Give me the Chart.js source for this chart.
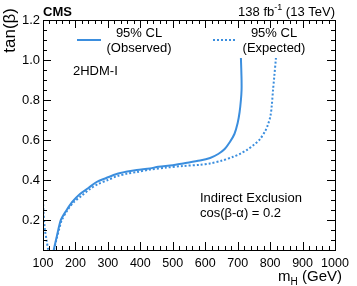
<!DOCTYPE html>
<html>
<head>
<meta charset="utf-8">
<script src="https://cdn.jsdelivr.net/npm/chart.js@4.4.1/dist/chart.umd.min.js"></script>
<style>
    html, body { margin: 0; padding: 0; background: #fff; }
    #wrap { width: 357px; height: 286px; }
</style>
</head>
<body>
<div id="wrap"><canvas id="exclusionChart"></canvas></div>
<script>
const X_TICKS = [100, 200, 300, 400, 500, 600, 700, 800, 900, 1000];
const Y_TICKS = [0.2, 0.4, 0.6, 0.8, 1.0, 1.2];

// observed 95% CL contour (mH in GeV, tan beta)
const obsMass = [133, 140, 147, 155, 173, 190, 214, 240, 265, 295, 327, 360, 389, 430, 455, 500, 532, 584, 615, 640, 660, 676, 690, 700, 706, 710, 712, 712, 711, 710];
const obsTanb = [0.05, 0.10, 0.15, 0.20, 0.25, 0.29, 0.33, 0.36, 0.39, 0.41, 0.43, 0.442, 0.45, 0.458, 0.466, 0.474, 0.483, 0.497, 0.51, 0.53, 0.555, 0.59, 0.63, 0.685, 0.74, 0.80, 0.85, 0.90, 0.96, 1.01];

// expected 95% CL contour, main branch and the small low-mass branch
const expMass = [134, 141, 149, 158, 176, 195, 218, 245, 270, 300, 330, 360, 390, 430, 480, 532, 584, 615, 650, 686, 710, 730, 750, 769, 785, 794, 801, 805, 809, 813, 818];
const expTanb = [0.05, 0.10, 0.15, 0.20, 0.25, 0.29, 0.32, 0.355, 0.38, 0.40, 0.42, 0.432, 0.44, 0.452, 0.462, 0.47, 0.476, 0.483, 0.496, 0.516, 0.533, 0.552, 0.576, 0.605, 0.645, 0.68, 0.72, 0.77, 0.85, 0.92, 1.01];
const expLowMass = [100, 101, 106, 111, 116];
const expLowTanb = [0.36, 0.25, 0.15, 0.10, 0.05];

const BLUE = '#3b8ede';
const FONT = '"Liberation Sans", Arial, Helvetica, sans-serif';

function toPoints(xs, ys) {
    return xs.map((x, i) => ({ x: x, y: ys[i] }));
}

// frame + inward ticks on all four sides, ROOT style
const frameTicks = {
    id: 'frameTicks',
    afterDraw(chart) {
        const ctx = chart.ctx;
        const a = chart.chartArea;
        const xs = chart.scales.x;
        const ys = chart.scales.y;
        ctx.save();
        ctx.strokeStyle = '#000';
        ctx.lineWidth = 1;
        ctx.strokeRect(a.left + 0.5, a.top + 0.5, a.right - a.left, a.bottom - a.top);
        ctx.beginPath();
        for (let m = 100; m <= 1000; m += 20) {
            const px = Math.round(xs.getPixelForValue(m)) + 0.5;
            const len = m % 100 === 0 ? 8 : 4;
            ctx.moveTo(px, a.bottom); ctx.lineTo(px, a.bottom - len);
            ctx.moveTo(px, a.top); ctx.lineTo(px, a.top + len);
        }
        for (let k = 1; k <= 24; k++) {
            const v = k * 0.05;
            const py = Math.round(ys.getPixelForValue(v)) + 0.5;
            const len = k % 4 === 0 ? 8 : 4;
            ctx.moveTo(a.left, py); ctx.lineTo(a.left + len, py);
            ctx.moveTo(a.right, py); ctx.lineTo(a.right - len, py);
        }
        ctx.stroke();
        ctx.restore();
    }
};

// titles, labels and the legend
const annotations = {
    id: 'annotations',
    afterDraw(chart) {
        const ctx = chart.ctx;
        const a = chart.chartArea;
        ctx.save();
        ctx.fillStyle = '#000';
        ctx.textBaseline = 'alphabetic';

        ctx.font = 'bold 13px ' + FONT;
        ctx.textAlign = 'left';
        ctx.fillText('CMS', a.left, 16);

        // 138 fb^-1 (13 TeV), right aligned
        ctx.font = '13px ' + FONT;
        const tail = ' (13 TeV)';
        const head = '138 fb';
        const wTail = ctx.measureText(tail).width;
        const wHead = ctx.measureText(head).width;
        ctx.font = '9px ' + FONT;
        const sup = '-1';
        const wSup = ctx.measureText(sup).width;
        let x = a.right - wTail - wSup - wHead;
        ctx.font = '13px ' + FONT;
        ctx.fillText(head, x, 16);
        ctx.font = '9px ' + FONT;
        ctx.fillText(sup, x + wHead, 10);
        ctx.font = '13px ' + FONT;
        ctx.fillText(tail, x + wHead + wSup, 16);

        // x title m_H (GeV)
        ctx.font = '15px ' + FONT;
        const rest = ' (GeV)';
        const wRest = ctx.measureText(rest).width;
        const wM = ctx.measureText('m').width;
        ctx.font = '10px ' + FONT;
        const wH = ctx.measureText('H').width;
        x = a.right + 7 - wRest - wH - wM;
        ctx.font = '15px ' + FONT;
        ctx.fillText('m', x, 281);
        ctx.font = '10px ' + FONT;
        ctx.fillText('H', x + wM, 285);
        ctx.font = '15px ' + FONT;
        ctx.fillText(rest, x + wM + wH, 281);

        // y title tan(beta)
        ctx.save();
        ctx.translate(15, 8);
        ctx.rotate(-Math.PI / 2);
        ctx.font = '17px ' + FONT;
        ctx.textAlign = 'right';
        ctx.fillText('tan(\u03b2)', 0, 0);
        ctx.restore();

        ctx.font = '13px ' + FONT;
        ctx.textAlign = 'left';
        ctx.fillText('2HDM-I', 73, 75);
        ctx.fillText('Indirect Exclusion', 200, 202);
        ctx.fillText('cos(\u03b2-\u03b1) = 0.2', 200, 217);

        // legend
        const ds = chart.data.datasets;
        const entries = [
            { set: ds[0], x0: 77, x1: 101, cx: 139 },
            { set: ds[1], x0: 213, x1: 237, cx: 274 }
        ];
        entries.forEach(e => {
            ctx.save();
            ctx.strokeStyle = e.set.borderColor;
            ctx.lineWidth = e.set.borderWidth;
            ctx.setLineDash(e.set.borderDash || []);
            ctx.beginPath();
            ctx.moveTo(e.x0, 40);
            ctx.lineTo(e.x1, 40);
            ctx.stroke();
            ctx.restore();
            ctx.font = '13px ' + FONT;
            ctx.textAlign = 'center';
            const lines = e.set.label.split('\n');
            ctx.fillText(lines[0], e.cx, 37);
            ctx.fillText(lines[1], e.cx, 52);
        });
        ctx.restore();
    }
};

new Chart(document.getElementById('exclusionChart'), {
    type: 'scatter',
    data: {
        datasets: [{
            label: '95% CL\n(Observed)',
            data: toPoints(obsMass, obsTanb),
            showLine: true,
            borderColor: BLUE,
            borderWidth: 2,
            pointRadius: 0,
            tension: 0.3
        }, {
            label: '95% CL\n(Expected)',
            data: toPoints(expMass, expTanb),
            showLine: true,
            borderColor: BLUE,
            borderWidth: 2,
            borderDash: [2, 2],
            pointRadius: 0,
            tension: 0.3
        }, {
            label: 'expected-low',
            data: toPoints(expLowMass, expLowTanb),
            showLine: true,
            borderColor: BLUE,
            borderWidth: 2,
            borderDash: [2, 2],
            pointRadius: 0,
            tension: 0.3
        }]
    },
    options: {
        responsive: true,
        maintainAspectRatio: false,
        animation: false,
        layout: { padding: { left: 0, right: 22, top: 20, bottom: 0 } },
        plugins: {
            legend: { display: false },
            tooltip: { enabled: false }
        },
        scales: {
            x: {
                type: 'linear',
                min: 100,
                max: 1000,
                grid: { display: false, drawTicks: false },
                border: { display: false },
                afterBuildTicks: scale => { scale.ticks = X_TICKS.map(v => ({ value: v })); },
                afterFit: scale => { scale.height = 36; },
                ticks: {
                    padding: 6,
                    autoSkip: false,
                    maxRotation: 0,
                    color: '#000',
                    font: { family: FONT, size: 12.5 },
                    callback: v => String(v)
                }
            },
            y: {
                type: 'linear',
                min: 0.05,
                max: 1.2,
                grid: { display: false, drawTicks: false },
                border: { display: false },
                afterBuildTicks: scale => { scale.ticks = Y_TICKS.map(v => ({ value: v })); },
                afterFit: scale => { scale.width = 43; },
                ticks: {
                    padding: 3,
                    autoSkip: false,
                    color: '#000',
                    font: { family: FONT, size: 13 },
                    callback: v => v.toFixed(1)
                }
            }
        }
    },
    plugins: [frameTicks, annotations]
});
</script>
</body>
</html>
